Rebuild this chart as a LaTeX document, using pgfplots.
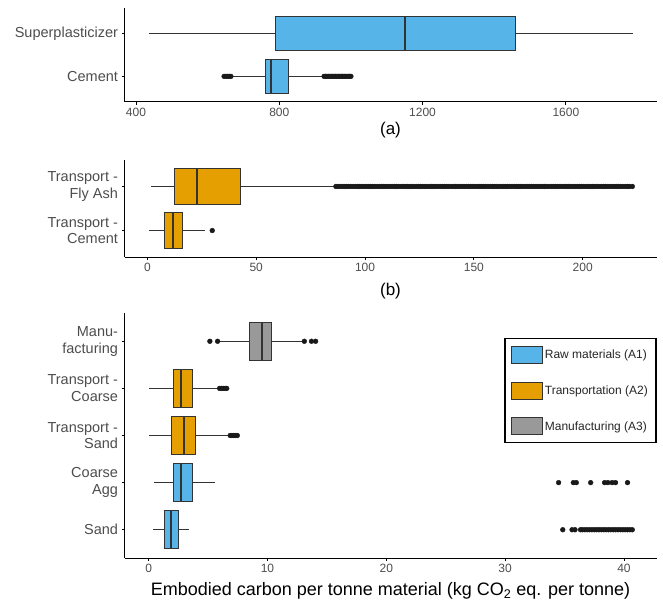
\documentclass[border=0pt]{standalone}
\usepackage{fontspec}
\setmainfont{Liberation Sans}
\usepackage{pgfplots}
\pgfplotsset{compat=1.18}
\usepgfplotslibrary{statistics}

\definecolor{rawblue}{HTML}{56B4E9}
\definecolor{transorange}{HTML}{E69F00}
\definecolor{manugray}{HTML}{999999}
\definecolor{edge}{HTML}{333333}
\definecolor{ticktext}{HTML}{4D4D4D}

\pgfplotsset{
  panel/.style={
    scale only axis, width=532pt, anchor=south west,
    axis x line*=bottom, axis y line*=left,
    axis line style={line width=1pt, black},
    tick align=outside, major tick length=3pt,
    tick style={line width=0.8pt, black},
    x tick label style={font=\fontsize{12}{14}\selectfont, text=ticktext},
    y tick label style={font=\fontsize{14.5}{16.7}\selectfont, text=ticktext, align=right},
    xlabel style={font=\fontsize{17}{20}\selectfont, at={(axis description cs:0.5,0)}, anchor=center},
    /pgf/number format/assume math mode=true,
    /pgf/number format/1000 sep={},
    scaled x ticks=false,
    ymin=0.4,
  },
  box/.style={boxplot/draw direction=x, boxplot/whisker extend=0,
    draw=edge, line width=0.9pt,
    boxplot/every whisker/.style={line width=0.9pt},
    boxplot/every median/.style={line width=1.9pt}},
  out/.style={only marks, mark=*, mark size=2.4pt, color=black!90},
  legkey/.style={legend image code/.code={\draw[##1] (0pt,-8.5pt) rectangle (31pt,8.5pt);}},
}

\begin{document}
\begin{tikzpicture}
\path[use as bounding box] (0pt,0pt) rectangle (663pt,603pt);

% (a) raw materials, cement and superplasticizer
\begin{axis}[panel, at={(124.5pt,501pt)}, height=94pt,
  xmin=368, xmax=1853, ymax=2.6,
  xtick={400,800,1200,1600},
  ytick={1,2}, yticklabels={Cement, Superplasticizer},
  xlabel={(a)}, xlabel style={yshift=-28pt}]
\addplot[box, fill=rawblue, boxplot prepared={draw position=2,
  lower whisker=436, lower quartile=789, median=1150,
  upper quartile=1458, upper whisker=1786}] coordinates {};
\addplot[box, fill=rawblue, boxplot prepared={draw position=1,
  lower whisker=670, lower quartile=761, median=777,
  upper quartile=826, upper whisker=919}] coordinates {};
\addplot[out] coordinates {
  (646,1) (651,1) (656,1) (661,1) (665,1)
  (925,1) (929,1) (933,1) (937,1) (941,1) (945,1) (949,1) (953,1) (957,1) (961,1)
  (965,1) (969,1) (973,1) (977,1) (981,1) (985,1) (989,1) (993,1) (997,1) (1000,1)
};
\end{axis}

% (b) transport of fly ash and cement
\begin{axis}[panel, at={(124.5pt,346pt)}, height=97pt,
  xmin=-10.5, xmax=233.9, ymax=2.6,
  xtick={0,50,100,150,200},
  ytick={1,2}, yticklabels={{Transport -\\Cement}, {Transport -\\Fly Ash}},
  xlabel={(b)}, xlabel style={yshift=-34pt}]
\addplot[box, fill=transorange, boxplot prepared={draw position=2,
  lower whisker=1.6, lower quartile=12.6, median=23,
  upper quartile=42.8, upper whisker=86}] coordinates {};
\addplot[box, fill=transorange, boxplot prepared={draw position=1,
  lower whisker=0.6, lower quartile=7.8, median=11.7,
  upper quartile=16, upper whisker=26.3}] coordinates {};
\addplot[out] coordinates {
  (86.6,2) (87.5,2) (88.5,2) (89.5,2) (90.5,2) (91.5,2) (92.5,2) (93.5,2) (94.5,2) (95.5,2)
  (96.5,2) (97.5,2) (98.5,2) (99.5,2) (100.5,2) (101.5,2) (102.5,2) (103.5,2) (104.5,2) (105.5,2)
  (106.5,2) (107.5,2) (108.5,2) (109.5,2) (110.5,2) (111.5,2) (112.5,2) (113.5,2) (114.5,2) (115.5,2)
  (116.5,2) (117.5,2) (118.5,2) (119.5,2) (120.5,2) (121.5,2) (122.5,2) (123.5,2) (124.5,2) (125.5,2)
  (126.5,2) (127.5,2) (128.5,2) (129.5,2) (130.5,2) (131.5,2) (132.5,2) (133.5,2) (134.5,2) (135.5,2)
  (136.5,2) (137.5,2) (138.5,2) (139.5,2) (140.5,2) (141.5,2) (142.5,2) (143.5,2) (144.5,2) (145.5,2)
  (146.5,2) (147.5,2) (148.5,2) (149.5,2) (150.5,2) (151.5,2) (152.5,2) (153.5,2) (154.5,2) (155.5,2)
  (156.5,2) (157.5,2) (158.5,2) (159.5,2) (160.5,2) (161.5,2) (162.5,2) (163.5,2) (164.5,2) (165.5,2)
  (166.5,2) (167.5,2) (168.5,2) (169.5,2) (170.5,2) (171.5,2) (172.5,2) (173.5,2) (174.5,2) (175.5,2)
  (176.5,2) (177.5,2) (178.5,2) (179.5,2) (180.5,2) (181.5,2) (182.5,2) (183.5,2) (184.5,2) (185.5,2)
  (186.5,2) (187.5,2) (188.5,2) (189.5,2) (190.5,2) (191.5,2) (192.5,2) (193.5,2) (194.5,2) (195.5,2)
  (196.5,2) (197.5,2) (198.5,2) (199.5,2) (200.5,2) (201.5,2) (202.5,2) (203.5,2) (204.5,2) (205.5,2)
  (206.5,2) (207.5,2) (208.5,2) (209.5,2) (210.5,2) (211.5,2) (212.5,2) (213.5,2) (214.5,2) (215.5,2)
  (216.5,2) (217.5,2) (218.5,2) (219.5,2) (220.5,2) (221.5,2) (222.8,2)
  (29.8,1)
};
\end{axis}

% (c) aggregates, their transport and manufacturing
\begin{axis}[panel, at={(124.5pt,45pt)}, height=245pt,
  xmin=-2.035, xmax=42.74, ymax=5.6,
  xtick={0,10,20,30,40},
  ytick={1,2,3,4,5},
  yticklabels={Sand, {Coarse\\Agg}, {Transport -\\Sand}, {Transport -\\Coarse}, {Manu-\\facturing}},
  xlabel={Embodied carbon per tonne material (kg CO\textsubscript{2} eq. per tonne)},
  xlabel style={yshift=-33pt, font=\fontsize{18}{21}\selectfont},
  legend style={at={(1,0.898)}, anchor=north east, draw=black, line width=1.4pt,
    font=\fontsize{12}{14}\selectfont, text=black!85,
    inner xsep=6pt, inner ysep=7pt, row sep=18pt,
    /tikz/every even column/.append style={column sep=3pt}},
  legend cell align=left]
\addlegendimage{legkey, fill=rawblue, draw=edge, line width=0.9pt}
\addlegendentry{Raw materials (A1)}
\addlegendimage{legkey, fill=transorange, draw=edge, line width=0.9pt}
\addlegendentry{Transportation (A2)}
\addlegendimage{legkey, fill=manugray, draw=edge, line width=0.9pt}
\addlegendentry{Manufacturing (A3)}

\addplot[box, fill=manugray, boxplot prepared={draw position=5,
  lower whisker=6.0, lower quartile=8.45, median=9.5,
  upper quartile=10.3, upper whisker=12.9}] coordinates {};
\addplot[box, fill=transorange, boxplot prepared={draw position=4,
  lower whisker=0, lower quartile=2.05, median=2.75,
  upper quartile=3.65, upper whisker=5.8}] coordinates {};
\addplot[box, fill=transorange, boxplot prepared={draw position=3,
  lower whisker=0, lower quartile=1.9, median=3.0,
  upper quartile=3.9, upper whisker=6.7}] coordinates {};
\addplot[box, fill=rawblue, boxplot prepared={draw position=2,
  lower whisker=0.46, lower quartile=2.05, median=2.7,
  upper quartile=3.65, upper whisker=5.6}] coordinates {};
\addplot[box, fill=rawblue, boxplot prepared={draw position=1,
  lower whisker=0.36, lower quartile=1.35, median=1.9,
  upper quartile=2.5, upper whisker=3.4}] coordinates {};
\addplot[out] coordinates {
  (5.15,5) (5.8,5) (13.1,5) (13.7,5) (14.05,5)
  (5.97,4) (6.15,4) (6.3,4) (6.45,4) (6.57,4)
  (6.86,3) (7.0,3) (7.15,3) (7.3,3) (7.46,3)
  (34.5,2) (35.74,2) (35.99,2) (37.2,2) (38.37,2) (38.65,2) (39.0,2) (39.29,2) (40.3,2)
  (34.85,1) (35.63,1) (35.88,1) (36.34,1) (36.5,1) (36.7,1) (36.9,1) (37.1,1) (37.3,1)
  (37.5,1) (37.7,1) (37.9,1) (38.1,1) (38.3,1) (38.5,1) (38.7,1) (38.9,1) (39.1,1)
  (39.3,1) (39.5,1) (39.7,1) (39.9,1) (40.1,1) (40.3,1) (40.5,1) (40.7,1)
};
\end{axis}
\end{tikzpicture}
\end{document}
